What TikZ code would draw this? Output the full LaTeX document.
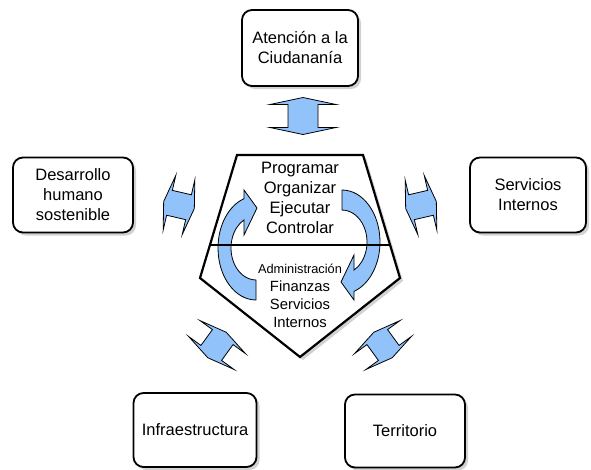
\documentclass[tikz,border=0pt]{standalone}
\usepackage{fontspec}
\setmainfont{Liberation Sans}
\usepackage{tikz}
\usetikzlibrary{positioning}
\usetikzlibrary{shadows}
\definecolor{arrowblue}{RGB}{145,195,250}
\tikzset{box node/.style={rectangle,rounded corners=10pt,draw,line width=1.8pt,fill=white,
    drop shadow={shadow xshift=3pt,shadow yshift=-3pt,fill=black!35},
    align=center,inner sep=2pt,font=\fontsize{16.5}{20}\selectfont},}
\tikzset{blue arrow/.style={fill=arrowblue,draw=black,line width=0.8pt,line join=miter},}
\tikzset{dblarrow/.pic={
    \path[blue arrow] (0,-18.5) -- (33,-11.5) -- (15,-11.5) -- (15,11.5) -- (33,11.5)
      -- (0,18.5) -- (-33,11.5) -- (-15,11.5) -- (-15,-11.5) -- (-33,-11.5) -- cycle;
  }}
\tikzset{turn arrow/.pic={
    \path[blue arrow] (342,190) arc[start angle=-90,end angle=71.6,x radius=38,y radius=52]
      -- (354,300) -- (341,282) -- (354,255) -- (354,270.1)
      arc[start angle=61.3,end angle=-90,x radius=25,y radius=32] -- cycle;
  }}

\begin{document}
\begin{tikzpicture}[x=1pt,y=-1pt]
    \useasboundingbox (0,0) rectangle (591,469);

    % outer boxes
    \node[box node, minimum width=116pt, minimum height=76pt] (aten) at (300,48) {Atención a la\\Ciudananía};
    \node[box node, minimum width=120pt, minimum height=75pt] (desarrollo) at (73,195) {Desarrollo\\humano\\sostenible};
    \node[box node, minimum width=116pt, minimum height=75pt] (servicios) at (528,195) {Servicios\\Internos};
    \node[box node, minimum width=123pt, minimum height=74pt] (infra) at (195,430) {Infraestructura};
    \node[box node, minimum width=120pt, minimum height=73pt] (territorio) at (405,431) {Territorio};

    % pentagon
    \coordinate (pa) at (237,155);
    \coordinate (pb) at (363,155);
    \coordinate (pc) at (400,278);
    \coordinate (pd) at (300,357);
    \coordinate (pe) at (200,278);
    \coordinate (hl) at (210,245);
    \coordinate (hr) at (390,245);
    \path[draw,fill=white,line width=2.2pt,line join=miter,
      drop shadow={shadow xshift=3pt,shadow yshift=-3pt,fill=black!35}]
      (pa) -- (pb) -- (pc) -- (pd) -- (pe) -- cycle;

    % cycle arrows
    \pic {turn arrow};
    \pic[rotate around={180:(299,245)}] {turn arrow};
    \draw[line width=2.2pt] (hl) -- (hr);

    % block arrows
    \pic at (303,116) {dblarrow};
    \pic[rotate=77,scale=0.85] at (179,205) {dblarrow};
    \pic[rotate=-77,scale=0.85] at (421,205) {dblarrow};
    \pic[rotate=-36,scale=0.85] at (217,345) {dblarrow};
    \pic[rotate=36,scale=0.85] at (383,345) {dblarrow};

    % texts
    \node[align=center,font=\fontsize{16.5}{20}\selectfont] (steps) at (300,198)
      {Programar\\Organizar\\Ejecutar\\Controlar};
    \node[align=center,font=\fontsize{14.8}{18}\selectfont] (areas) at (300,296)
      {{\fontsize{12.8}{18}\selectfont Administración}\\Finanzas\\Servicios\\Internos};
\end{tikzpicture}
\end{document}
